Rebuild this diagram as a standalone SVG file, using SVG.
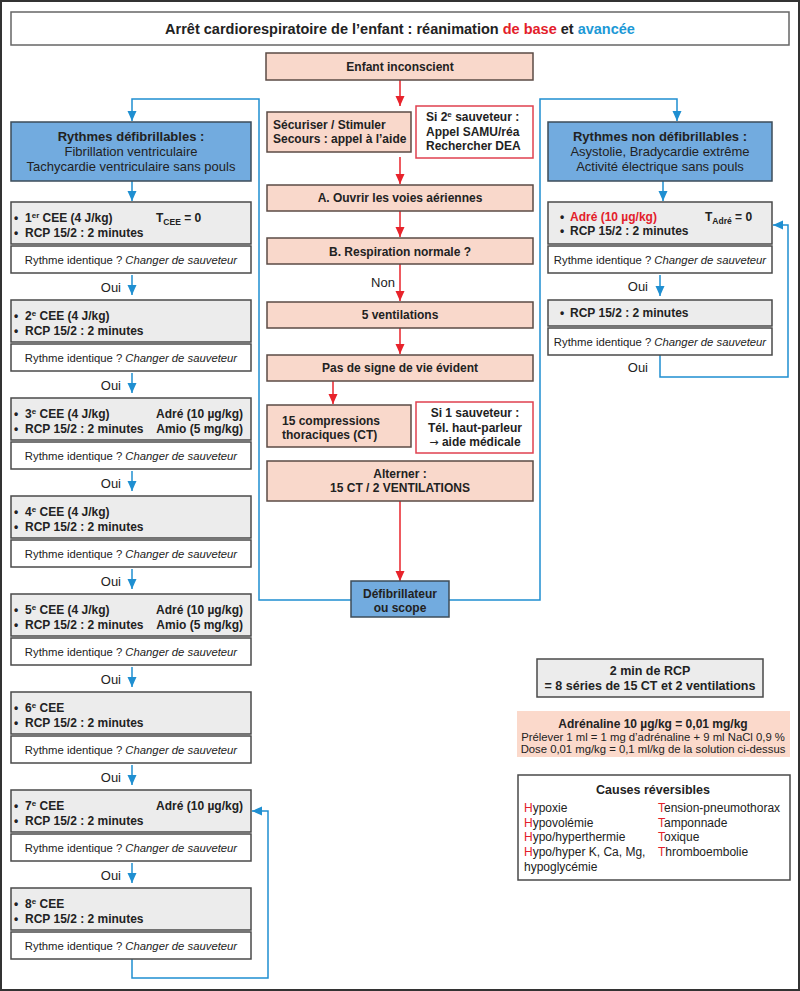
<svg xmlns="http://www.w3.org/2000/svg" width="800" height="991" viewBox="0 0 800 991">
<defs>
<style>
text{font-family:"Liberation Sans",Arial,sans-serif;fill:#222;}
.b{font-weight:bold;}
.c{text-anchor:middle;}
.e{text-anchor:end;}
.f12{font-size:12px;}
.f13{font-size:13px;}
.f11{font-size:11.3px;}
.peach{fill:#f9d8cb;stroke:#5b4b45;stroke-width:1.5;}
.redbox{fill:#fff;stroke:#e0404f;stroke-width:1.5;}
.bluebox{fill:#72abdf;stroke:#3d4c5a;stroke-width:1.5;}
.gray{fill:#ececec;stroke:#4a4a4a;stroke-width:1.5;}
.white{fill:#fff;stroke:#4a4a4a;stroke-width:1.5;}
.rl{fill:none;stroke:#e8232b;stroke-width:1.5;}
.bl{fill:none;stroke:#1f8fd1;stroke-width:1.5;}
.red{fill:#e3202a;}
.blue{fill:#1c99d6;}
</style>
<marker id="ra" markerUnits="userSpaceOnUse" markerWidth="10" markerHeight="10" viewBox="0 0 10 10" refX="10" refY="5" orient="auto"><path d="M0,0.5 L10,5 L0,9.5 Z" fill="#e8232b"/></marker>
<marker id="ba" markerUnits="userSpaceOnUse" markerWidth="10" markerHeight="10" viewBox="0 0 10 10" refX="10" refY="5" orient="auto"><path d="M0,0.5 L10,5 L0,9.5 Z" fill="#1f8fd1"/></marker>
</defs>
<rect x="0" y="0" width="800" height="991" fill="#fff"/>
<rect x="1" y="1" width="798" height="989" fill="none" stroke="#333" stroke-width="2"/>

<g id="title">
<rect x="11" y="12" width="778" height="33" fill="#fff" stroke="#666" stroke-width="1.5"/>
<text x="400" y="34" class="b c" font-size="14.5">Arrêt cardiorespiratoire de l’enfant : réanimation <tspan class="red">de base</tspan> et <tspan class="blue">avancée</tspan></text>
</g>

<g id="connectors">
<path class="rl" d="M400,80 V106" marker-end="url(#ra)"/>
<path class="rl" d="M400,157 V184" marker-end="url(#ra)"/>
<path class="rl" d="M400,211 V237" marker-end="url(#ra)"/>
<path class="rl" d="M400,264 V301" marker-end="url(#ra)"/>
<path class="rl" d="M400,328 V354" marker-end="url(#ra)"/>
<path class="rl" d="M333,381 V404" marker-end="url(#ra)"/>
<path class="rl" d="M400,501 V581" marker-end="url(#ra)"/>
<path class="bl" d="M351,600 H259 V99 H132 V121" marker-end="url(#ba)"/>
<path class="bl" d="M449,600 H540 V99 H677 V121" marker-end="url(#ba)"/>
<path class="bl" d="M132,181 V201" marker-end="url(#ba)"/>
<path class="bl" d="M663,181 V201" marker-end="url(#ba)"/>
<path class="bl" d="M132,275 V295" marker-end="url(#ba)"/>
<path class="bl" d="M132,373 V393" marker-end="url(#ba)"/>
<path class="bl" d="M132,471 V491" marker-end="url(#ba)"/>
<path class="bl" d="M132,569 V589" marker-end="url(#ba)"/>
<path class="bl" d="M132,667 V687" marker-end="url(#ba)"/>
<path class="bl" d="M132,765 V785" marker-end="url(#ba)"/>
<path class="bl" d="M132,863 V883" marker-end="url(#ba)"/>
<path class="bl" d="M132,959 V978 H268 V811 H252" marker-end="url(#ba)"/>
<path class="bl" d="M660,275 V296" marker-end="url(#ba)"/>
<path class="bl" d="M660,355 V377 H788 V225 H773" marker-end="url(#ba)"/>
<text x="383" y="287" class="c f13">Non</text>
</g>

<g id="n-enfant"><rect class="peach" x="266" y="53" width="267" height="27"/><text x="400" y="71" class="b c f12">Enfant inconscient</text></g>
<g id="n-securiser"><rect class="peach" x="267" y="112" width="144" height="40"/><text class="b f12"><tspan x="273" y="129">Sécuriser / Stimuler</tspan><tspan x="273" y="143">Secours : appel à l’aide</tspan></text></g>
<g id="n-si2"><rect class="redbox" x="416" y="106" width="117" height="52"/><text class="b f12"><tspan x="426" y="121">Si 2<tspan dy="-4" font-size="8">e</tspan><tspan dy="4"> sauveteur :</tspan></tspan><tspan x="426" y="136">Appel SAMU/réa</tspan><tspan x="426" y="150">Rechercher DEA</tspan></text></g>
<g id="n-ouvrir"><rect class="peach" x="267" y="185" width="266" height="26"/><text x="400" y="202" class="b c f12">A. Ouvrir les voies aériennes</text></g>
<g id="n-respiration"><rect class="peach" x="267" y="238" width="266" height="26"/><text x="400" y="256" class="b c f12">B. Respiration normale ?</text></g>
<g id="n-5vent"><rect class="peach" x="267" y="302" width="266" height="26"/><text x="400" y="319" class="b c f12">5 ventilations</text></g>
<g id="n-pasdesigne"><rect class="peach" x="267" y="355" width="266" height="26"/><text x="400" y="372" class="b c f12">Pas de signe de vie évident</text></g>
<g id="n-15ct"><rect class="peach" x="267" y="405" width="144" height="42"/><text class="b f12"><tspan x="282" y="425">15 compressions</tspan><tspan x="282" y="439">thoraciques (CT)</tspan></text></g>
<g id="n-si1"><rect class="redbox" x="416" y="402" width="117" height="51"/><text class="b c f12"><tspan x="475" y="417">Si 1 sauveteur :</tspan><tspan x="475" y="432">Tél. haut-parleur</tspan><tspan x="475" y="446"><tspan font-family="'DejaVu Sans',sans-serif" font-weight="normal" font-size="11">→</tspan> aide médicale</tspan></text></g>
<g id="n-alterner"><rect class="peach" x="267" y="461" width="266" height="40"/><text class="b c f12"><tspan x="400" y="478">Alterner :</tspan><tspan x="400" y="492">15 CT / 2 VENTILATIONS</tspan></text></g>
<g id="n-defib"><rect class="bluebox" x="351" y="581" width="98" height="36"/><text class="b c f12"><tspan x="400" y="598">Défibrillateur</tspan><tspan x="400" y="612">ou scope</tspan></text></g>

<g id="n-defibrillables"><rect class="bluebox" x="11" y="122" width="240" height="59"/><text class="c f13"><tspan x="131" y="141" class="b">Rythmes défibrillables :</tspan><tspan x="131" y="156">Fibrillation ventriculaire</tspan><tspan x="131" y="171">Tachycardie ventriculaire sans pouls</tspan></text></g>

<g id="s1"><rect class="gray" x="11" y="202" width="240" height="42"/><text class="b f12"><tspan x="14" y="222">•</tspan><tspan x="25" y="222">1<tspan dy="-4" font-size="8">er</tspan><tspan dy="4"> CEE (4 J/kg)</tspan></tspan><tspan x="156" y="222">T<tspan dy="3" font-size="8.5">CEE</tspan><tspan dy="-3"> = 0</tspan></tspan><tspan x="14" y="237">•</tspan><tspan x="25" y="237">RCP 15/2 : 2 minutes</tspan></text></g>
<g id="c1"><rect class="white" x="11" y="246" width="240" height="27"/><text x="131" y="264" class="c f11">Rythme identique ? <tspan font-style="italic">Changer de sauveteur</tspan></text></g>
<text x="121" y="292" class="e f13">Oui</text>

<g id="s2"><rect class="gray" x="11" y="300" width="240" height="42"/><text class="b f12"><tspan x="14" y="320">•</tspan><tspan x="25" y="320">2<tspan dy="-4" font-size="8">e</tspan><tspan dy="4"> CEE (4 J/kg)</tspan></tspan><tspan x="14" y="335">•</tspan><tspan x="25" y="335">RCP 15/2 : 2 minutes</tspan></text></g>
<g id="c2"><rect class="white" x="11" y="344" width="240" height="27"/><text x="131" y="362" class="c f11">Rythme identique ? <tspan font-style="italic">Changer de sauveteur</tspan></text></g>
<text x="121" y="390" class="e f13">Oui</text>

<g id="s3"><rect class="gray" x="11" y="398" width="240" height="42"/><text class="b f12"><tspan x="14" y="418">•</tspan><tspan x="25" y="418">3<tspan dy="-4" font-size="8">e</tspan><tspan dy="4"> CEE (4 J/kg)</tspan></tspan><tspan x="14" y="433">•</tspan><tspan x="25" y="433">RCP 15/2 : 2 minutes</tspan></text><text class="b f12 e"><tspan x="243" y="418">Adré (10 µg/kg)</tspan><tspan x="243" y="433">Amio (5 mg/kg)</tspan></text></g>
<g id="c3"><rect class="white" x="11" y="442" width="240" height="27"/><text x="131" y="460" class="c f11">Rythme identique ? <tspan font-style="italic">Changer de sauveteur</tspan></text></g>
<text x="121" y="488" class="e f13">Oui</text>

<g id="s4"><rect class="gray" x="11" y="496" width="240" height="42"/><text class="b f12"><tspan x="14" y="516">•</tspan><tspan x="25" y="516">4<tspan dy="-4" font-size="8">e</tspan><tspan dy="4"> CEE (4 J/kg)</tspan></tspan><tspan x="14" y="531">•</tspan><tspan x="25" y="531">RCP 15/2 : 2 minutes</tspan></text></g>
<g id="c4"><rect class="white" x="11" y="540" width="240" height="27"/><text x="131" y="558" class="c f11">Rythme identique ? <tspan font-style="italic">Changer de sauveteur</tspan></text></g>
<text x="121" y="586" class="e f13">Oui</text>

<g id="s5"><rect class="gray" x="11" y="594" width="240" height="42"/><text class="b f12"><tspan x="14" y="614">•</tspan><tspan x="25" y="614">5<tspan dy="-4" font-size="8">e</tspan><tspan dy="4"> CEE (4 J/kg)</tspan></tspan><tspan x="14" y="629">•</tspan><tspan x="25" y="629">RCP 15/2 : 2 minutes</tspan></text><text class="b f12 e"><tspan x="243" y="614">Adré (10 µg/kg)</tspan><tspan x="243" y="629">Amio (5 mg/kg)</tspan></text></g>
<g id="c5"><rect class="white" x="11" y="638" width="240" height="27"/><text x="131" y="656" class="c f11">Rythme identique ? <tspan font-style="italic">Changer de sauveteur</tspan></text></g>
<text x="121" y="684" class="e f13">Oui</text>

<g id="s6"><rect class="gray" x="11" y="692" width="240" height="42"/><text class="b f12"><tspan x="14" y="712">•</tspan><tspan x="25" y="712">6<tspan dy="-4" font-size="8">e</tspan><tspan dy="4"> CEE</tspan></tspan><tspan x="14" y="727">•</tspan><tspan x="25" y="727">RCP 15/2 : 2 minutes</tspan></text></g>
<g id="c6"><rect class="white" x="11" y="736" width="240" height="27"/><text x="131" y="754" class="c f11">Rythme identique ? <tspan font-style="italic">Changer de sauveteur</tspan></text></g>
<text x="121" y="782" class="e f13">Oui</text>

<g id="s7"><rect class="gray" x="11" y="790" width="240" height="42"/><text class="b f12"><tspan x="14" y="810">•</tspan><tspan x="25" y="810">7<tspan dy="-4" font-size="8">e</tspan><tspan dy="4"> CEE</tspan></tspan><tspan x="14" y="825">•</tspan><tspan x="25" y="825">RCP 15/2 : 2 minutes</tspan></text><text class="b f12 e" x="243" y="810">Adré (10 µg/kg)</text></g>
<g id="c7"><rect class="white" x="11" y="834" width="240" height="27"/><text x="131" y="852" class="c f11">Rythme identique ? <tspan font-style="italic">Changer de sauveteur</tspan></text></g>
<text x="121" y="880" class="e f13">Oui</text>

<g id="s8"><rect class="gray" x="11" y="888" width="240" height="42"/><text class="b f12"><tspan x="14" y="908">•</tspan><tspan x="25" y="908">8<tspan dy="-4" font-size="8">e</tspan><tspan dy="4"> CEE</tspan></tspan><tspan x="14" y="923">•</tspan><tspan x="25" y="923">RCP 15/2 : 2 minutes</tspan></text></g>
<g id="c8"><rect class="white" x="11" y="932" width="240" height="27"/><text x="131" y="950" class="c f11">Rythme identique ? <tspan font-style="italic">Changer de sauveteur</tspan></text></g>

<g id="n-nondefibrillables"><rect class="bluebox" x="548" y="122" width="224" height="59"/><text class="c f13"><tspan x="660" y="141" class="b">Rythmes non défibrillables :</tspan><tspan x="660" y="156">Asystolie, Bradycardie extrême</tspan><tspan x="660" y="171">Activité électrique sans pouls</tspan></text></g>
<g id="r1"><rect class="gray" x="548" y="202" width="224" height="42"/><text class="b f12"><tspan x="560" y="221">•</tspan><tspan x="570" y="221" class="red">Adré (10 µg/kg)</tspan><tspan x="705" y="221">T<tspan dy="3" font-size="8.5">Adré</tspan><tspan dy="-3"> = 0</tspan></tspan><tspan x="560" y="235">•</tspan><tspan x="570" y="235">RCP 15/2 : 2 minutes</tspan></text></g>
<g id="rc1"><rect class="white" x="548" y="246" width="224" height="27"/><text x="660" y="264" class="c f11">Rythme identique ? <tspan font-style="italic">Changer de sauveteur</tspan></text></g>
<text x="648" y="291" class="e f13">Oui</text>
<g id="r2"><rect class="gray" x="548" y="300" width="224" height="26"/><text class="b f12"><tspan x="560" y="317">•</tspan><tspan x="570" y="317">RCP 15/2 : 2 minutes</tspan></text></g>
<g id="rc2"><rect class="white" x="548" y="328" width="224" height="27"/><text x="660" y="346" class="c f11">Rythme identique ? <tspan font-style="italic">Changer de sauveteur</tspan></text></g>
<text x="648" y="372" class="e f13">Oui</text>

<g id="n-2min"><rect class="gray" x="537" y="659" width="226" height="38"/><text class="b c" font-size="12.5"><tspan x="650" y="675">2 min de RCP</tspan><tspan x="650" y="690">= 8 séries de 15 CT et 2 ventilations</tspan></text></g>
<g id="n-adrenaline"><rect x="517" y="711" width="273" height="46" fill="#fbd9cb"/><text class="c"><tspan x="653" y="728" class="b" font-size="12">Adrénaline 10 µg/kg = 0,01 mg/kg</tspan><tspan x="653" y="741" font-size="11.3">Prélever 1 ml = 1 mg d’adrénaline + 9 ml  NaCl 0,9 %</tspan><tspan x="653" y="753" font-size="11.3">Dose 0,01 mg/kg = 0,1 ml/kg de la solution ci-dessus</tspan></text></g>
<g id="n-causes"><rect class="white" x="518" y="775" width="272" height="105"/><text x="653" y="794" class="b c" font-size="12.5">Causes réversibles</text>
<text class="f12"><tspan x="524" y="812"><tspan class="red">H</tspan>ypoxie</tspan><tspan x="524" y="827"><tspan class="red">H</tspan>ypovolémie</tspan><tspan x="524" y="841"><tspan class="red">H</tspan>ypo/hyperthermie</tspan><tspan x="524" y="856"><tspan class="red">H</tspan>ypo/hyper K, Ca, Mg,</tspan><tspan x="524" y="871">hypoglycémie</tspan></text>
<text class="f12"><tspan x="658" y="812"><tspan class="red">T</tspan>ension-pneumothorax</tspan><tspan x="658" y="827"><tspan class="red">T</tspan>amponnade</tspan><tspan x="658" y="841"><tspan class="red">T</tspan>oxique</tspan><tspan x="658" y="856"><tspan class="red">T</tspan>hromboembolie</tspan></text></g>
</svg>
